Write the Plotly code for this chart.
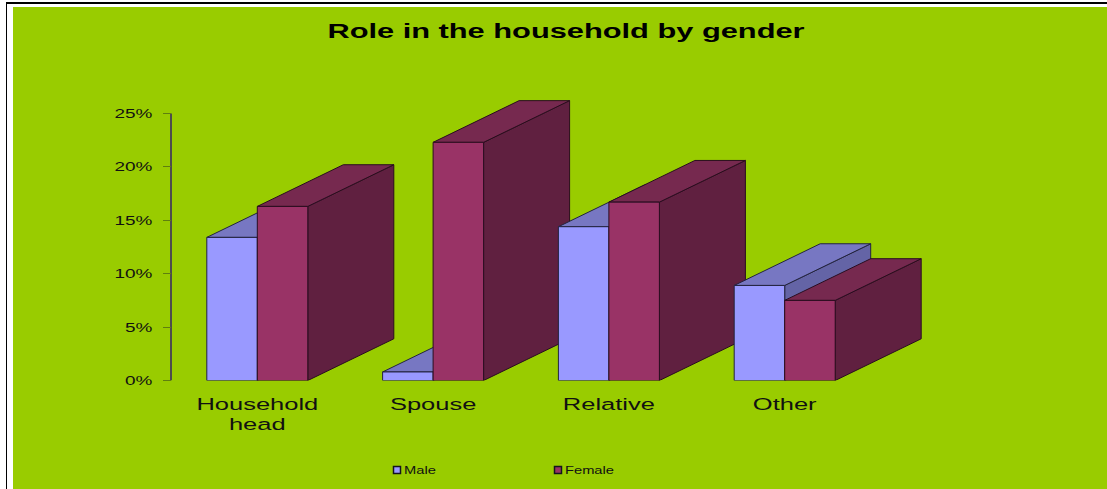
import plotly.graph_objects as go

# Chart data
title_text = "Role in the household by gender"
categories = ["Household<br>head", "Spouse", "Relative", "Other"]
male = [13.4, 0.8, 14.4, 8.9]
female = [16.3, 22.3, 16.7, 7.5]
y_ticks = [0, 5, 10, 15, 20, 25]
y_tick_labels = ["0%", "5%", "10%", "15%", "20%", "25%"]

# Canvas and plot-area geometry (pixels)
W, H = 1107, 489
AXIS_X = 171
PLOT_L, PLOT_R = 150, 1000
Y0_PX, Y25_PX = 380.5, 113.5
PX_PER_PCT = (Y0_PX - Y25_PX) / 25
CAT_0_PX, CAT_STEP_PX = 257.3, 175.8
BAR_W = 50.5 / CAT_STEP_PX
DEPTH_X = 86 / CAT_STEP_PX
DEPTH_Y = 41.7 / PX_PER_PCT

# Fill colours for the three visible faces of each box, plus edges
MALE = dict(front="#9999FF", top="#7777C2", side="#6464A6", edge="#23233F")
FEMALE = dict(front="#993366", top="#76294F", side="#602040", edge="#2A0D1F")
GREEN = "#99CC00"


def face(xs, ys, fill, edge):
    return go.Scatter(x=xs, y=ys, mode="lines", fill="toself", fillcolor=fill,
                      line=dict(color=edge, width=1), cliponaxis=False,
                      showlegend=False, hoverinfo="skip")


def box(left, value, style):
    right = left + BAR_W
    top = value + DEPTH_Y
    return [
        face([right, right + DEPTH_X, right + DEPTH_X, right, right],
             [0, DEPTH_Y, top, value, 0], style["side"], style["edge"]),
        face([left, right, right + DEPTH_X, left + DEPTH_X, left],
             [value, value, top, top, value], style["top"], style["edge"]),
        face([left, right, right, left, left],
             [0, 0, value, value, 0], style["front"], style["edge"]),
    ]


x_axis_pos = (AXIS_X - CAT_0_PX) / CAT_STEP_PX
x_lo = (PLOT_L - CAT_0_PX) / CAT_STEP_PX
x_hi = (PLOT_R - CAT_0_PX) / CAT_STEP_PX

fig = go.Figure()

# Value axis line, stopping at the last tick while the boxes rise past it
fig.add_trace(go.Scatter(x=[x_axis_pos, x_axis_pos], y=[y_ticks[0], y_ticks[-1]], mode="lines",
                         line=dict(color="#4D4D4D", width=2), cliponaxis=False,
                         showlegend=False, hoverinfo="skip"))

for i, (m, f) in enumerate(zip(male, female)):
    fig.add_traces(box(i - BAR_W, m, MALE))
    fig.add_traces(box(i, f, FEMALE))

# Legend entries
for name, style in (("Male", MALE), ("Female", FEMALE)):
    fig.add_trace(go.Scatter(x=[None], y=[None], name=name, mode="markers",
                             marker=dict(symbol="square", size=7, color=style["front"],
                                         line=dict(color="#14141F", width=1.5))))

fig.update_layout(
    width=W, height=H, autosize=False,
    margin=dict(l=0, r=0, t=0, b=0, autoexpand=False),
    paper_bgcolor="white", plot_bgcolor="rgba(0,0,0,0)",
    font=dict(family="Liberation Sans", color="#111111"),
    title=dict(text=title_text, x=566 / W, xanchor="center", y=1 - 31 / H, yanchor="middle",
               font=dict(size=20, color="black", weight="bold")),
    showlegend=True,
    legend=dict(orientation="h", x=377 / W, xanchor="left", y=1 - 470 / H, yanchor="middle",
                entrywidth=116, entrywidthmode="pixels", itemwidth=30,
                bgcolor="rgba(0,0,0,0)", font=dict(size=10, color="#111111")),
    xaxis=dict(domain=[PLOT_L / W, PLOT_R / W], range=[x_lo, x_hi],
               tickmode="array", tickvals=list(range(len(categories))), ticktext=categories,
               ticks="", showline=False, showgrid=False, zeroline=False,
               ticklabelstandoff=12, tickfont=dict(size=17, color="#111111")),
    yaxis=dict(domain=[1 - Y0_PX / H, 1], range=[0, Y0_PX / PX_PER_PCT],
               anchor="free", position=AXIS_X / W,
               tickmode="array", tickvals=y_ticks, ticktext=y_tick_labels,
               ticks="outside", ticklen=8, tickwidth=1, tickcolor="#5F7F10",
               showline=False, showgrid=False, zeroline=False,
               ticklabelstandoff=8, tickfont=dict(size=13, color="#111111")),
    shapes=[
        dict(type="rect", xref="paper", yref="paper", layer="below",
             x0=13 / W, x1=1, y0=0, y1=1 - 7 / H, fillcolor=GREEN, line=dict(width=0)),
        dict(type="rect", xref="paper", yref="paper", layer="below",
             x0=6 / W, x1=1, y0=1 - 4 / H, y1=1 - 2 / H, fillcolor="black", line=dict(width=0)),
        dict(type="rect", xref="paper", yref="paper", layer="below",
             x0=6 / W, x1=7 / W, y0=0, y1=1 - 2 / H, fillcolor="black", line=dict(width=0)),
    ],
)

# The lettering on this chart is set wide, so scale each label horizontally about its anchor.
widen_text = """
var gd = document.getElementById('{plot_id}');
function widen(selector, sx, shift) {
  gd.querySelectorAll(selector).forEach(function (t) {
    var x = parseFloat(t.getAttribute('x')) || 0;
    var base = t.getAttribute('transform') || '';
    t.setAttribute('transform', base + ' translate(' + (x + shift) + ' 0) scale(' + sx + ' 1) translate(' + (-x) + ' 0)');
  });
}
widen('.xtick text', 1.5, 0);
widen('.ytick text', 1.46, 0);
widen('text.gtitle', 1.54, 0);
widen('text.legendtext', 1.47, -13);
// Tighter leading on the two-line category label
gd.querySelectorAll('.xtick text tspan.line').forEach(function (s) {
  if (parseFloat(s.getAttribute('dy')) > 0) { s.setAttribute('dy', '1.12em'); }
});
"""

fig.write_html("out.html", post_script=widen_text, config=dict(displayModeBar=False))
